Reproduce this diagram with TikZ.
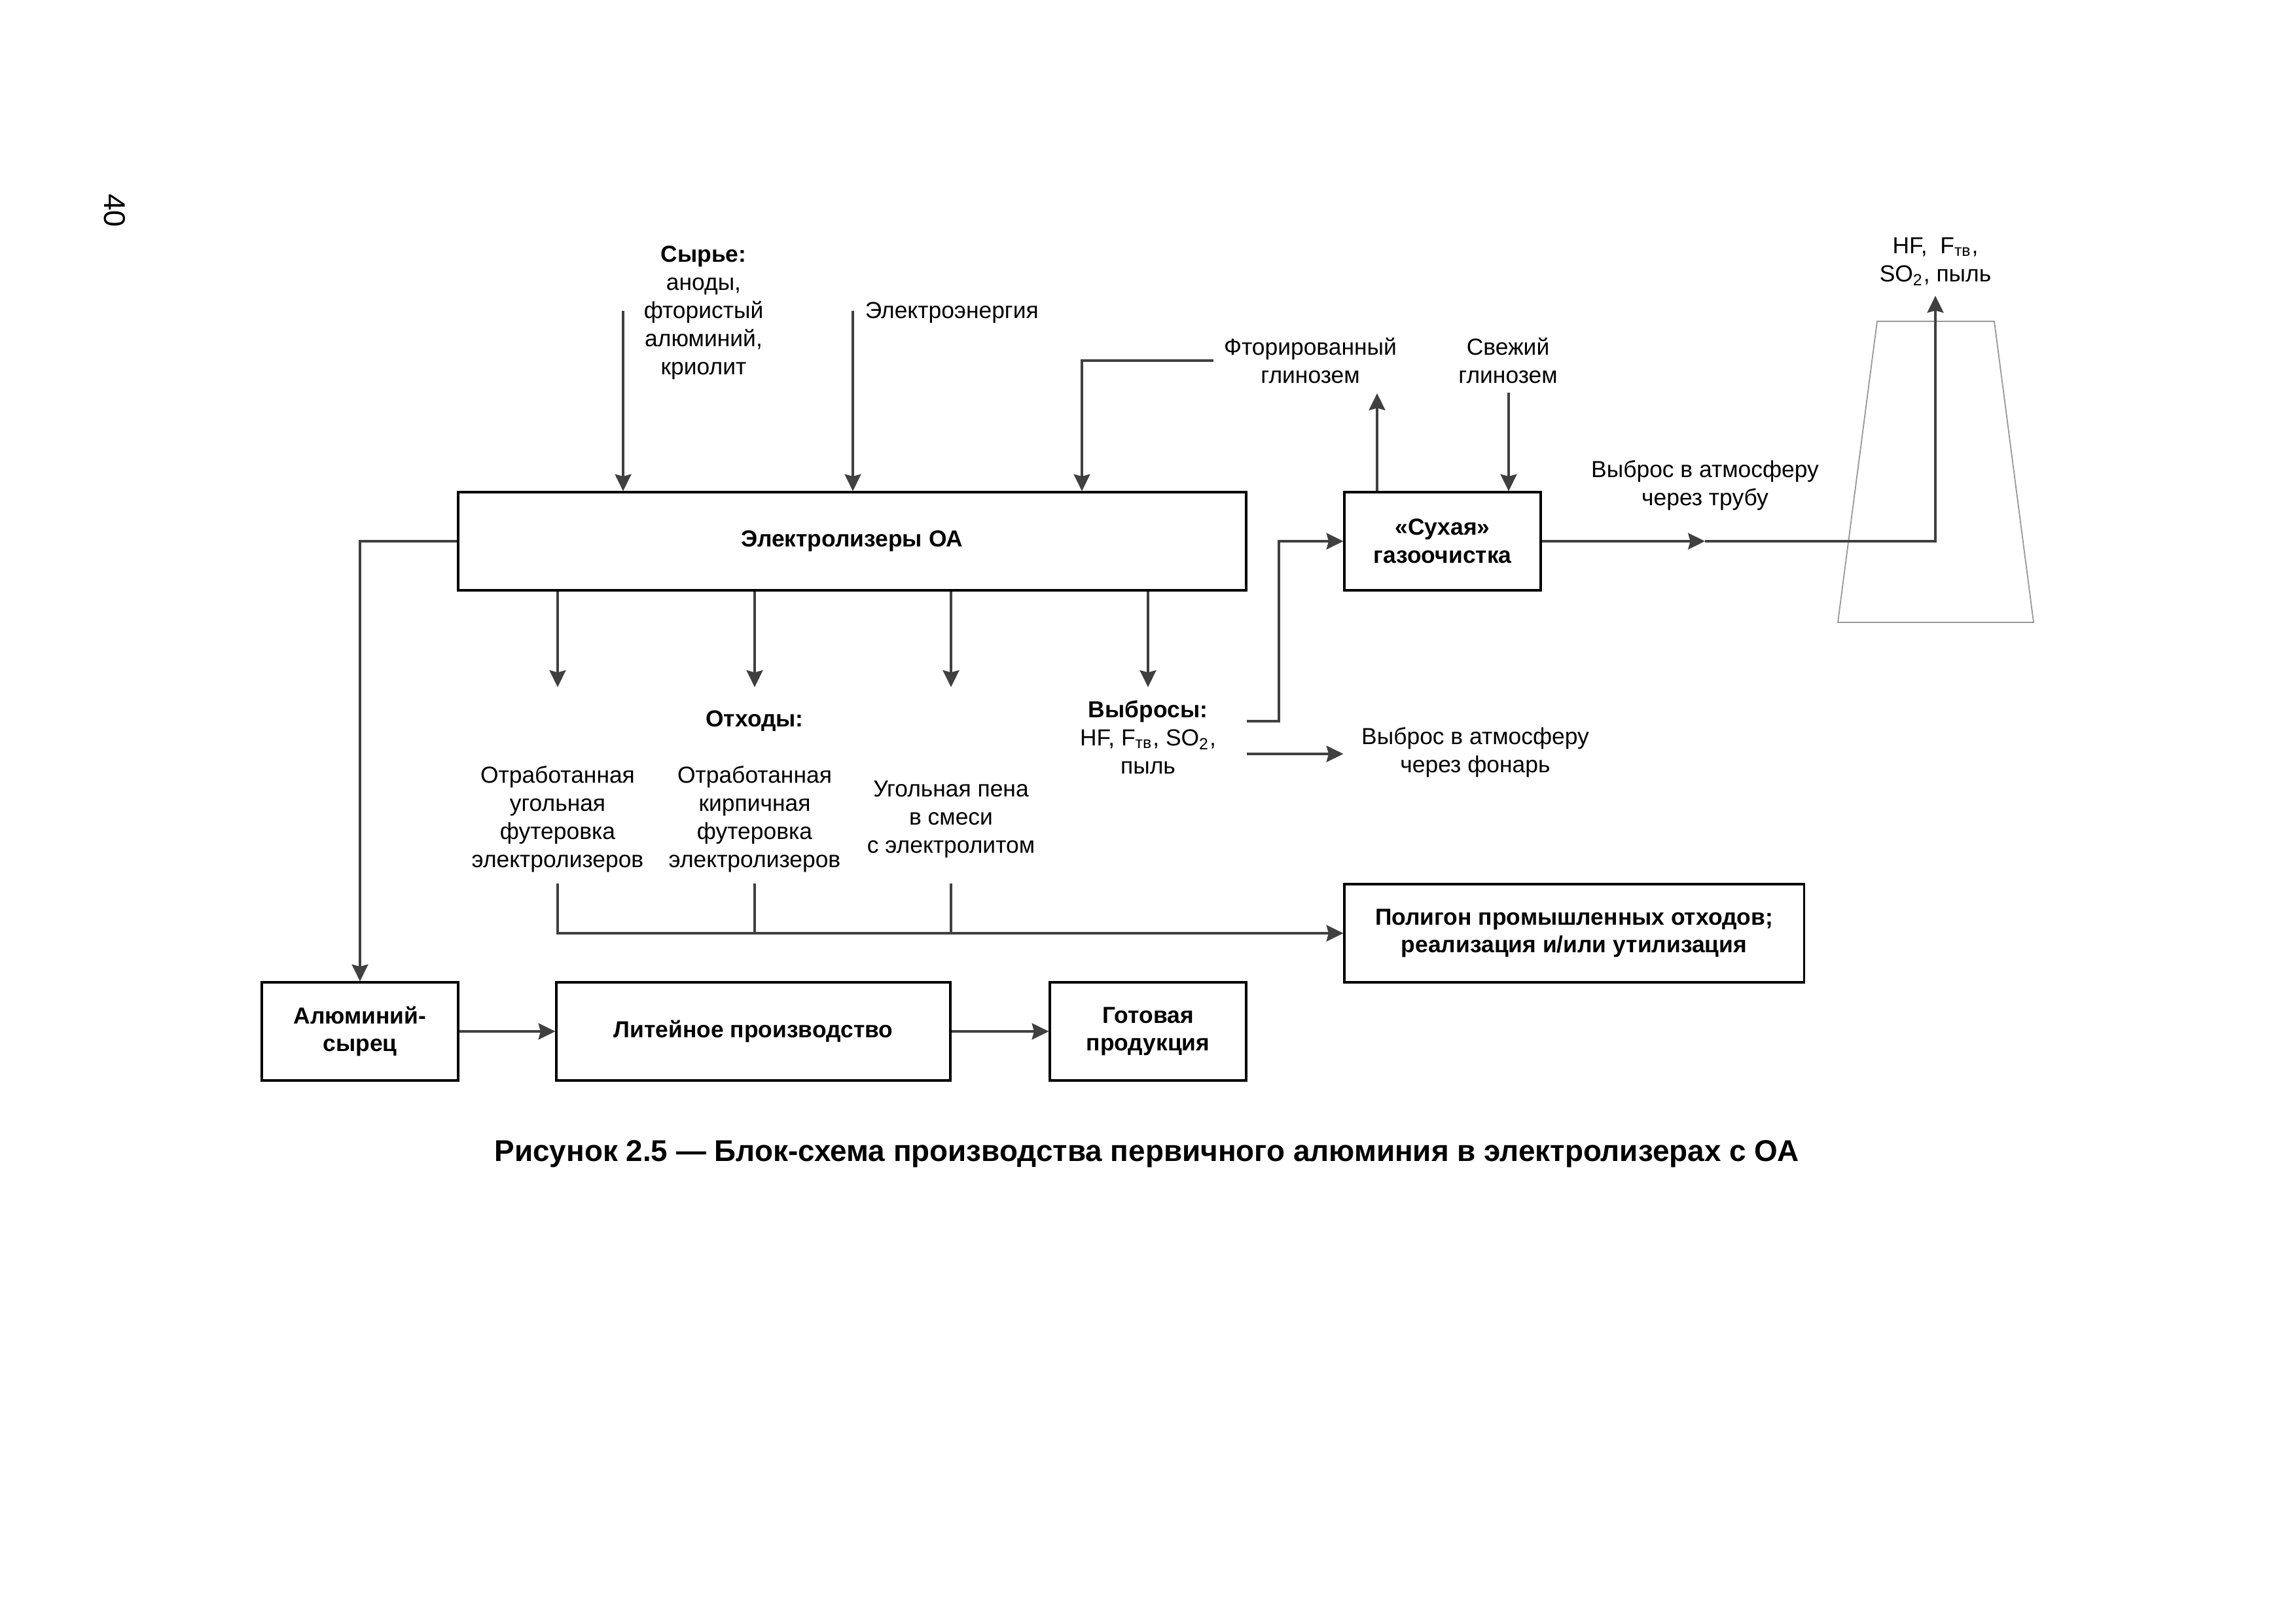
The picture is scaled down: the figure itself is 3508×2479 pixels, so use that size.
\documentclass[tikz,border=0pt]{standalone}
\usepackage{fontspec}
\setmainfont{Liberation Sans}
\usetikzlibrary{arrows.meta}
\definecolor{ln}{HTML}{404040}
\definecolor{stk}{HTML}{9A9A9A}
\begin{document}
\begin{tikzpicture}[x=0.24pt,y=-0.24pt,
  box/.style={draw=black,line width=0.75pt,font=\bfseries\fontsize{8.5}{10.3}\selectfont,align=center,inner sep=0pt},
  lbl/.style={font=\fontsize{8.5}{10.3}\selectfont,align=center,inner sep=0pt},
  conn/.style={draw=ln,line width=0.75pt,-{Stealth[length=6.2pt,width=6pt,inset=0.8pt]}},
  plain/.style={draw=ln,line width=0.75pt},
  stack/.style={draw=stk,line width=0.45pt}
]
\useasboundingbox (0,0) rectangle (3508,2479);

% page number
\node[font=\fontsize{11}{13}\selectfont,rotate=-90] (pg) at (175,322) {40};

% boxes
\node[box,minimum width=288.96pt,minimum height=36pt] (el) at (1302,827) {Электролизеры ОА};
\node[box,minimum width=72pt,minimum height=36pt] (sux) at (2204,827) {«Сухая»\\газоочистка};
\node[box,minimum width=168.5pt,minimum height=36pt] (pol) at (2405,1426) {Полигон промышленных отходов;\\реализация и/или утилизация};
\node[box,minimum width=72pt,minimum height=36pt] (alum) at (550,1576) {Алюминий-\\сырец};
\node[box,minimum width=144.5pt,minimum height=36pt] (lit) at (1151,1576) {Литейное производство};
\node[box,minimum width=72pt,minimum height=36pt] (got) at (1754,1576) {Готовая\\продукция};

% labels
\node[lbl] (syr) at (1075,478) {\textbf{Сырье:}\\аноды,\\фтористый\\алюминий,\\криолит};
\node[lbl,anchor=west] (ee) at (1321,478) {Электроэнергия};
\node[lbl] (ftor) at (2002,551) {Фторированный\\глинозем};
\node[lbl] (svezh) at (2304,551) {Свежий\\глинозем};
\node[lbl] (trub) at (2605,742) {Выброс в атмосферу\\через трубу};
\node[lbl] (hf) at (2957,400) {HF,\ \ F\textsubscript{тв},\\SO\textsubscript{2}, пыль};
\node[lbl] (otx) at (1153,1102) {\textbf{Отходы:}};
\node[lbl] (c1) at (852,1252) {Отработанная\\угольная\\футеровка\\электролизеров};
\node[lbl] (c2) at (1153,1252) {Отработанная\\кирпичная\\футеровка\\электролизеров};
\node[lbl] (c3) at (1453,1252) {Угольная пена\\в смеси\\с электролитом};
\node[lbl] (vyb) at (1754,1127) {\textbf{Выбросы:}\\HF, F\textsubscript{тв}, SO\textsubscript{2},\\пыль};
\node[lbl] (fon) at (2254,1150) {Выброс в атмосферу\\через фонарь};

% stack
\draw[stack] (2808,951) -- (2868,491) -- (3047,491) -- (3107,951) -- cycle;

% inputs to electrolyzers
\coordinate (inA) at (952,475);
\coordinate (inB) at (1303,475);
\coordinate (f1) at (1854,551);
\coordinate (inC) at (1653,551);
\draw[conn] (inA) -- (inA |- el.north);
\draw[conn] (inB) -- (inB |- el.north);
\draw[conn] (f1) -- (inC) -- (inC |- el.north);

% gas cleaning
\coordinate (up) at (2104,601);
\coordinate (sv) at (2305,600);
\draw[conn] (up |- sux.north) -- (up);
\draw[conn] (sv) -- (sv |- sux.north);
\coordinate (mid) at (2605,827);
\coordinate (top) at (2957,452);
\draw[conn] (sux.east) -- (mid);
\draw[conn] (mid) -| (top);

% outputs down
\foreach \x [count=\i] in {852,1153,1453,1754}{
  \coordinate (d\i) at (\x,1050);
  \draw[conn] (d\i |- el.south) -- (d\i);
}

% emissions
\coordinate (v1) at (1905,1102);
\coordinate (vk) at (1954,1102);
\coordinate (v2) at (1905,1152);
\draw[conn] (v1) -- (vk) |- (sux.west);
\draw[conn] (v2) -- (v2 -| sux.west);

% wastes to landfill
\coordinate (b1) at (852,1350);
\coordinate (b2) at (1153,1350);
\coordinate (b3) at (1453,1350);
\draw[plain] (b2) -- (b2 |- pol.west);
\draw[plain] (b3) -- (b3 |- pol.west);
\draw[conn] (b1) -- (b1 |- pol.west) -- (pol.west);

% aluminium line
\draw[conn] (el.west) -| (alum.north);
\draw[conn] (alum.east) -- (lit.west);
\draw[conn] (lit.east) -- (got.west);

% caption
\node[font=\bfseries\fontsize{11}{13}\selectfont,inner sep=0pt] (cap) at (1752,1763) {Рисунок 2.5 — Блок-схема производства первичного алюминия в электролизерах с ОА};
\end{tikzpicture}
\end{document}
